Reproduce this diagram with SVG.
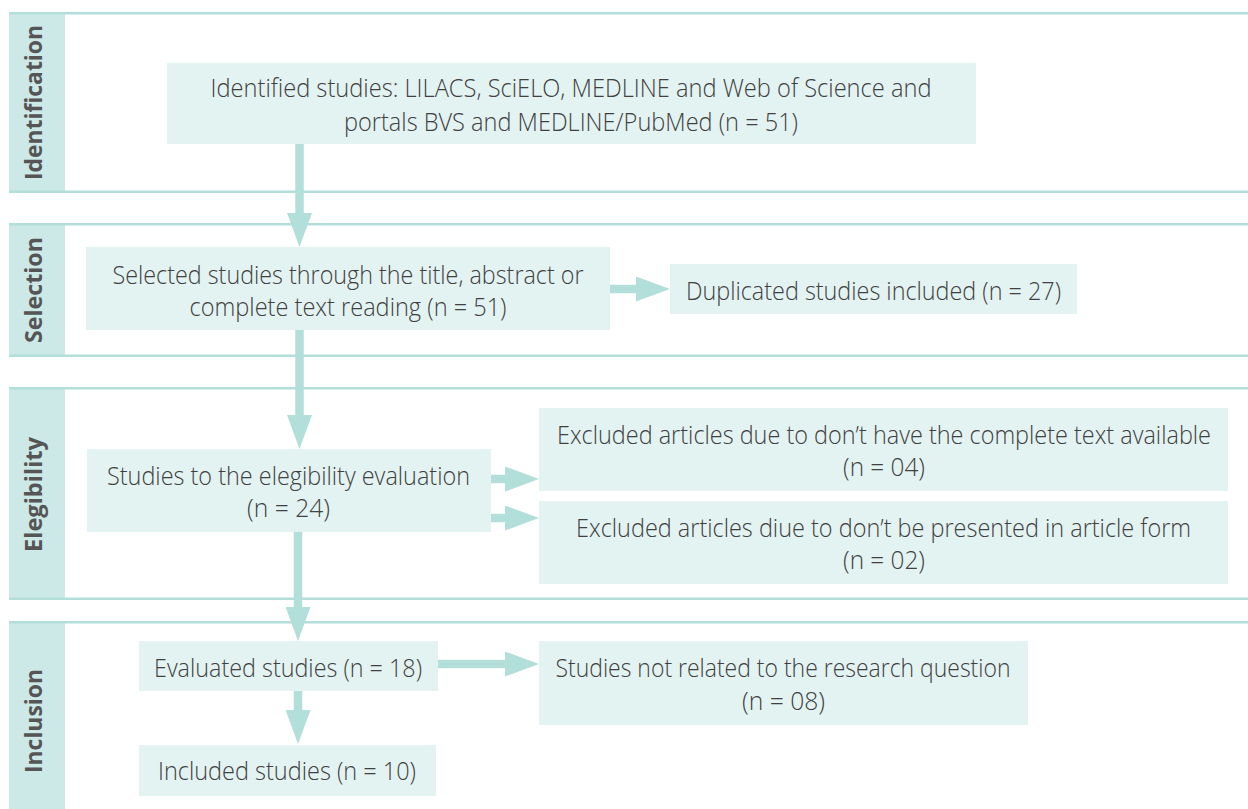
<svg xmlns="http://www.w3.org/2000/svg" width="1248" height="809" viewBox="0 0 1248 809">
<defs>
<style>
.band{fill:#b3dfdb}
.strip{fill:#cce8e7}
.box{fill:#e3f3f2}
.t{font-family:"Open Sans","Liberation Sans",sans-serif;font-weight:300;font-size:25px;fill:#404040;text-anchor:middle}
.lab{font-family:"Open Sans","Liberation Sans",sans-serif;font-weight:bold;font-size:24px;fill:#555555;text-anchor:middle}
.c{stroke:#b3dfdb;stroke-width:8.5;fill:none}
</style>
<marker id="ah" markerUnits="userSpaceOnUse" markerWidth="34" markerHeight="25" viewBox="0 0 34 25" refX="0" refY="12.5" orient="auto">
<path d="M0,0 L34,12.5 L0,25 z" fill="#b3dfdb"/>
</marker>
</defs>
<rect width="1248" height="809" fill="#ffffff"/>

<g id="sections">
<rect class="strip" x="9" y="12" width="56" height="181"/>
<rect class="band" x="9" y="12" width="1239" height="2.5"/>
<rect class="band" x="9" y="190.5" width="1239" height="2.5"/>
<text class="lab" transform="translate(42,102.5) rotate(-90)" textLength="155" lengthAdjust="spacingAndGlyphs">Identification</text>

<rect class="strip" x="9" y="223" width="56" height="134"/>
<rect class="band" x="9" y="223" width="1239" height="2.5"/>
<rect class="band" x="9" y="354.5" width="1239" height="2.5"/>
<text class="lab" transform="translate(42,290) rotate(-90)" textLength="106" lengthAdjust="spacingAndGlyphs">Selection</text>

<rect class="strip" x="9" y="387" width="56" height="213"/>
<rect class="band" x="9" y="387" width="1239" height="2.5"/>
<rect class="band" x="9" y="597.5" width="1239" height="2.5"/>
<text class="lab" transform="translate(42,494.5) rotate(-90)" textLength="115" lengthAdjust="spacingAndGlyphs">Elegibility</text>

<rect class="strip" x="9" y="621" width="56" height="188"/>
<rect class="band" x="9" y="621" width="1239" height="2.5"/>
<text class="lab" transform="translate(42,721) rotate(-90)" textLength="104" lengthAdjust="spacingAndGlyphs">Inclusion</text>
</g>

<g id="connectors">
<line class="c" x1="299.5" y1="144" x2="299.5" y2="213" marker-end="url(#ah)"/>
<line class="c" x1="299.5" y1="330" x2="299.5" y2="415" marker-end="url(#ah)"/>
<line class="c" x1="298" y1="532" x2="298" y2="607" marker-end="url(#ah)"/>
<line class="c" x1="298" y1="691" x2="298" y2="710" marker-end="url(#ah)"/>
<line class="c" x1="610" y1="289" x2="636" y2="289" marker-end="url(#ah)"/>
<line class="c" x1="491" y1="479" x2="505" y2="479" marker-end="url(#ah)"/>
<line class="c" x1="491" y1="518" x2="505" y2="518" marker-end="url(#ah)"/>
<line class="c" x1="438" y1="664" x2="505" y2="664" marker-end="url(#ah)"/>
</g>

<g id="n-identified">
<rect class="box" x="167" y="63" width="809" height="81"/>
<text class="t" x="571" y="97" textLength="721" lengthAdjust="spacingAndGlyphs">Identified studies: LILACS, SciELO, MEDLINE and Web of Science and</text>
<text class="t" x="571" y="131" textLength="454" lengthAdjust="spacingAndGlyphs">portals BVS and MEDLINE/PubMed (n = 51)</text>
</g>

<g id="n-selected">
<rect class="box" x="86" y="247" width="524" height="83"/>
<text class="t" x="348" y="284" textLength="471" lengthAdjust="spacingAndGlyphs">Selected studies through the title, abstract or</text>
<text class="t" x="348" y="316" textLength="317" lengthAdjust="spacingAndGlyphs">complete text reading (n = 51)</text>
</g>

<g id="n-duplicated">
<rect class="box" x="670" y="264" width="407" height="50"/>
<text class="t" x="873.5" y="300" textLength="375" lengthAdjust="spacingAndGlyphs">Duplicated studies included (n = 27)</text>
</g>

<g id="n-elegibility">
<rect class="box" x="87" y="449" width="404" height="83"/>
<text class="t" x="288.5" y="485" textLength="363" lengthAdjust="spacingAndGlyphs">Studies to the elegibility evaluation</text>
<text class="t" x="288.5" y="517" textLength="83" lengthAdjust="spacingAndGlyphs">(n = 24)</text>
</g>

<g id="n-excluded1">
<rect class="box" x="539" y="408" width="689" height="83"/>
<text class="t" x="884" y="444" textLength="654" lengthAdjust="spacingAndGlyphs">Excluded articles due to don’t have the complete text available</text>
<text class="t" x="884" y="476" textLength="82" lengthAdjust="spacingAndGlyphs">(n = 04)</text>
</g>

<g id="n-excluded2">
<rect class="box" x="539" y="501" width="689" height="83"/>
<text class="t" x="883.5" y="537" textLength="615" lengthAdjust="spacingAndGlyphs">Excluded articles diue to don’t be presented in article form</text>
<text class="t" x="884" y="569" textLength="82" lengthAdjust="spacingAndGlyphs">(n = 02)</text>
</g>

<g id="n-evaluated">
<rect class="box" x="139" y="641" width="299" height="50"/>
<text class="t" x="288" y="677" textLength="268" lengthAdjust="spacingAndGlyphs">Evaluated studies (n = 18)</text>
</g>

<g id="n-notrelated">
<rect class="box" x="539" y="641" width="489" height="84"/>
<text class="t" x="783" y="677" textLength="455" lengthAdjust="spacingAndGlyphs">Studies not related to the research question</text>
<text class="t" x="783.5" y="710" textLength="83" lengthAdjust="spacingAndGlyphs">(n = 08)</text>
</g>

<g id="n-included">
<rect class="box" x="139" y="745" width="297" height="51"/>
<text class="t" x="287" y="780" textLength="258" lengthAdjust="spacingAndGlyphs">Included studies (n = 10)</text>
</g>
</svg>
